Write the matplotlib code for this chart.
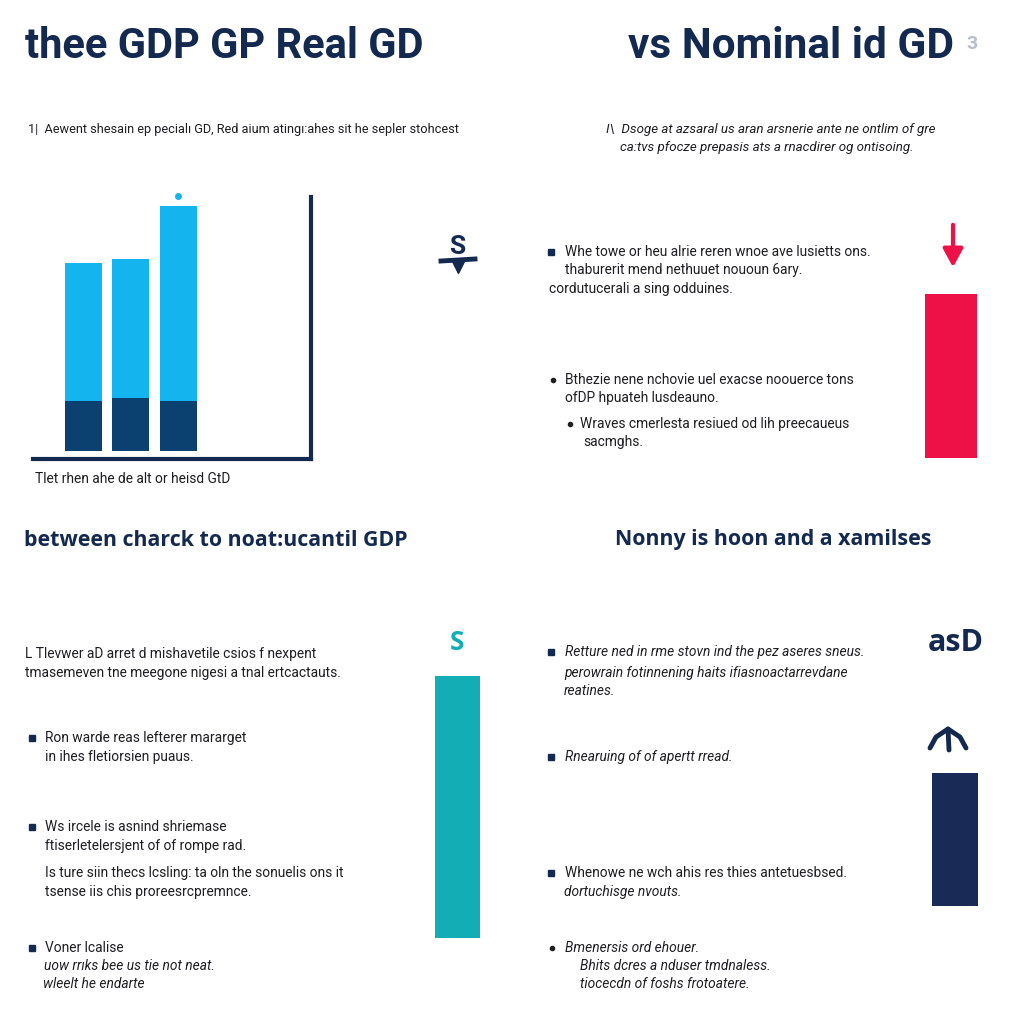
import matplotlib
matplotlib.use("Agg")
import matplotlib.pyplot as plt

# colours
NAVY = "#13294f"
LIGHT = "#14b4ee"
DARK = "#0b4171"
RED = "#ee1148"
TEAL = "#12adb5"
TEXT = "#1e1e24"

# bar chart data (top-left panel)
bar_labels = ["A", "B", "C"]
base_part = [50, 53, 50]
top_part = [138, 139, 195]

# single accent bars: (x centre, top, bottom) in page pixels
accent_x = [951, 457, 955]
accent_top = [294, 676, 773]
accent_bottom = [458, 938, 906]
accent_width = [52, 45, 46]
accent_color = [RED, TEAL, "#182a55"]

body_font = ["Liberation Sans Narrow", "Roboto", "DejaVu Sans"]

fig = plt.figure(figsize=(10.24, 10.24), dpi=100)
fig.patch.set_facecolor("white")
ax = fig.add_axes([0, 0, 1, 1])
ax.set_xlim(0, 1024)
ax.set_ylim(1024, 0)
ax.axis("off")


def txt(x, y, s, size=9.9, style="normal", weight="normal", color=TEXT, fam=body_font):
    ax.text(x, y, s, fontsize=size, fontstyle=style, fontweight=weight,
            color=color, family=fam, va="center", ha="left")


def bullet(x, y, kind="s"):
    if kind == "s":
        ax.plot(x, y, marker="s", ms=5, color=NAVY)
    else:
        ax.plot(x, y, marker="o", ms=3, color=TEXT)


# titles
title_font = ["Roboto", "DejaVu Sans"]
txt(25, 46, "thee GDP GP Real GD", size=30, weight="bold", color=NAVY, fam=title_font)
txt(628, 46, "vs Nominal id GD", size=30.5, weight="bold", color=NAVY, fam=title_font)
txt(966, 44, "3", size=14, weight="bold", color="#b8bfcc", fam=title_font)

txt(28, 130, "1|  Aewent shesain ep pecialı GD, Red aium atingı:ahes sit he sepler stohcest", size=9.2)
txt(606, 129, "I\\  Dsoge at azsaral us aran arsnerie ante ne ontlim of gre", size=9.6, style="italic")
txt(620, 147, "ca:tvs pfocze prepasis ats a rnacdirer og ontisoing.", size=9.6, style="italic")

# top-left bar chart
bax = fig.add_axes([33 / 1024, (1024 - 459) / 1024, 278 / 1024, 262 / 1024])
xs = [50, 97, 145]
bax.bar(xs, base_part, width=37, bottom=8, color=DARK)
bax.bar(xs, top_part, width=37, bottom=[8 + b for b in base_part], color=LIGHT)
bax.plot(xs[2], 8 + base_part[2] + top_part[2] + 10, "o", ms=4, color=LIGHT, clip_on=False)
bax.set_xlim(0, 278)
bax.set_ylim(0, 262)
for s in ["top", "left"]:
    bax.spines[s].set_visible(False)
for s in ["bottom", "right"]:
    bax.spines[s].set_color(NAVY)
    bax.spines[s].set_linewidth(3)
bax.set_xticks([])
bax.set_yticks([])
bax.patch.set_alpha(0)

txt(35, 479, "Tlet rhen ahe de alt or heisd GtD")

# dollar icon
ax.text(457, 247, "S", fontsize=19, fontweight="bold", color=NAVY, ha="center", va="center", family=title_font)
ax.plot([441, 475], [261, 259], color=NAVY, lw=3.5)
ax.plot(458, 267, marker="v", ms=8, color=NAVY)

# accent bars
for x, t, b, w, c in zip(accent_x, accent_top, accent_bottom, accent_width, accent_color):
    ax.bar(x, b - t, width=w, bottom=t, color=c)

# red arrow
ax.annotate("", xy=(953, 270), xytext=(953, 222),
            arrowprops=dict(arrowstyle="-|>,head_width=0.6,head_length=1.1", color=RED, lw=3))

# right-top bullets
bullet(551, 252)
txt(565, 252, "Whe towe or heu alrie reren wnoe ave lusietts ons.")
txt(565, 270, "thaburerit mend nethuuet nououn 6ary.")
txt(549, 289, "cordutucerali a sing odduines.")
bullet(553, 380, "o")
txt(565, 380, "Bthezie nene nchovie uel exacse noouerce tons")
txt(565, 398, "ofDP hpuateh lusdeauno.")
bullet(570, 424, "o")
txt(580, 424, "Wraves cmerlesta resiued od lih preecaueus")
txt(583, 442, "sacmghs.")

# second row titles
title2 = ["Open Sans", "DejaVu Sans"]
txt(24, 540, "between charck to noat:ucantil GDP", size=15.4, weight="bold", color=NAVY, fam=title2)
txt(615, 540, "Nonny is hoon and a xamilses", size=15.4, weight="bold", color=NAVY, fam=title2)

# left-bottom text
txt(25, 654, "L Tlevwer aD arret d mishavetile csios f nexpent")
txt(25, 673, "tmasemeven tne meegone nigesi a tnal ertcactauts.")
bullet(32, 738)
txt(45, 738, "Ron warde reas lefterer mararget")
txt(45, 757, "in ihes fletiorsien puaus.")
bullet(32, 827)
txt(45, 827, "Ws ircele is asnind shriemase")
txt(45, 846, "ftiserletelersjent of of rompe rad.")
txt(45, 873, "Is ture siin thecs lcsling: ta oln the sonuelis ons it")
txt(45, 892, "tsense iis chis proreesrcpremnce.")
bullet(32, 948)
txt(45, 948, "Voner lcalise")
txt(44, 966, "uow rrıks bee us tie not neat.", style="italic")
txt(43, 984, "wleelt he endarte", style="italic")

ax.text(457, 643, "S", fontsize=19, fontweight="bold", color=TEAL, ha="center", va="center", family=title2)

# right-bottom text
bullet(551, 652)
txt(565, 652, "Retture ned in rme stovn ind the pez aseres sneus.", style="italic")
txt(564, 673, "perowrain fotinnening haits ifiasnoactarrevdane", style="italic")
txt(564, 691, "reatines.", style="italic")
bullet(551, 757)
txt(565, 757, "Rnearuing of of apertt rread.", style="italic")
bullet(551, 873)
txt(565, 873, "Whenowe ne wch ahis res thies antetuesbsed.")
txt(564, 892, "dortuchisge nvouts.", style="italic")
bullet(552, 948, "o")
txt(565, 948, "Bmenersis ord ehouer.", style="italic")
txt(580, 966, "Bhits dcres a nduser tmdnaless.", style="italic")
txt(580, 984, "tiocecdn of foshs frotoatere.", style="italic")

ax.text(956, 643, "asD", fontsize=22, fontweight="bold", color=NAVY, ha="center", va="center", family=title2)
ax.plot([930, 936, 948, 960, 966], [748, 737, 729, 737, 748], color=NAVY, lw=3.5, solid_capstyle="round")
ax.plot([948, 949], [729, 750], color=NAVY, lw=3.5, solid_capstyle="round")

fig.savefig("out.png", dpi=100, facecolor="white")
